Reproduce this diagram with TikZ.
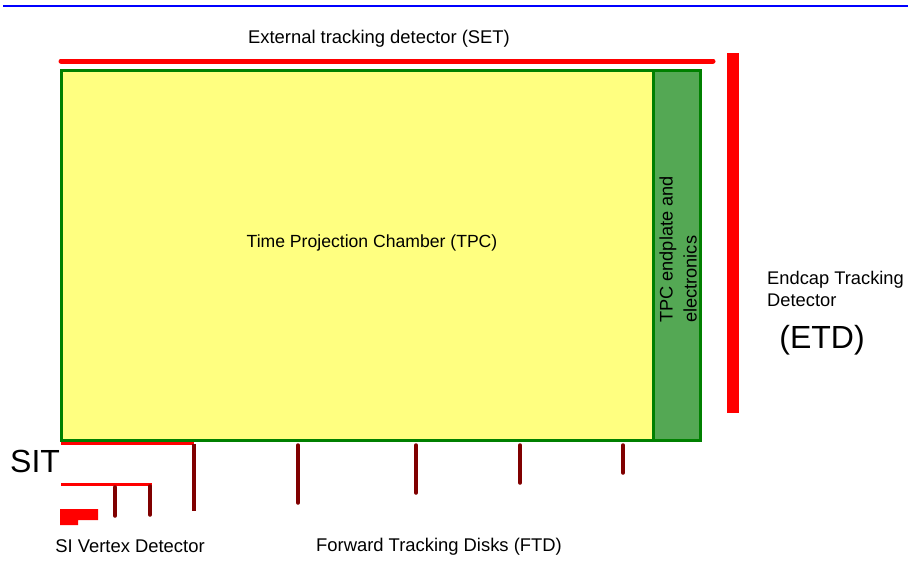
\documentclass[tikz,border=0pt]{standalone}
\usepackage{fontspec}
\setmainfont{Liberation Sans}
\definecolor{tpcyellow}{RGB}{255,255,128}
\definecolor{tpcgreen}{RGB}{84,168,84}
\definecolor{bordergreen}{RGB}{0,128,0}
\definecolor{detred}{RGB}{255,0,0}
\definecolor{diskred}{RGB}{128,0,0}
\definecolor{topblue}{RGB}{0,0,255}
\tikzset{
  lbl/.style={inner sep=0pt, font=\fontsize{18.4}{21.5}\selectfont, align=left},
  biglbl/.style={inner sep=0pt, font=\fontsize{32}{36}\selectfont},
  redline/.style={draw=detred, line width=3pt},
  disk/.style={draw=diskred, line width=3.5pt, line cap=round},
  chamber/.style={draw=bordergreen, line width=3pt},
}
\begin{document}
\begin{tikzpicture}[x=1pt,y=-1pt]
\useasboundingbox (0,0) rectangle (908,581);
% top rule
\draw[topblue, line width=1.8pt] (3,6) -- (908,6);
% SET
\draw[detred, line width=5pt, line cap=round] (61,61) -- (713,61);
\node[lbl] (set) at (379,39) {External tracking detector (SET)};
% ETD bar
\fill[detred] (727,53) rectangle (739,413);
% TPC
\filldraw[chamber, fill=tpcyellow] (61,70) rectangle (653,440);
\filldraw[chamber, fill=tpcgreen] (653,70) rectangle (700,440);
\node[lbl, font=\fontsize{17.6}{21}\selectfont] (tpc) at (372,243) {Time Projection Chamber (TPC)};
\node[lbl, font=\fontsize{18.2}{24}\selectfont, rotate=90, anchor=west] (endplate) at (678,323) {TPC endplate and\\electronics};
% ETD labels
\node[lbl, anchor=west, font=\fontsize{18.3}{21.5}\selectfont] (etd) at (767,289) {Endcap Tracking\\Detector};
\node[biglbl] (etdabbr) at (822,340) {(ETD)};
% SIT
\node[biglbl, anchor=west] (sit) at (10,461) {SIT};
\coordinate (sitA) at (61,443);
\coordinate (sitB) at (194,443);
\coordinate (sitC) at (61,484);
\coordinate (sitD) at (152,484);
\draw[redline] (sitA) -- (sitB);
\draw[redline] (sitC) -- (sitD);
% disks
\coordinate (d1t) at (194,444); \coordinate (d1b) at (194,511);
\coordinate (v1t) at (115,487); \coordinate (v1b) at (115,516);
\coordinate (v2t) at (150,486); \coordinate (v2b) at (150,515);
\coordinate (d2t) at (298,445); \coordinate (d2b) at (298,503);
\coordinate (d3t) at (416,445); \coordinate (d3b) at (416,493);
\coordinate (d4t) at (520,445); \coordinate (d4b) at (520,483);
\coordinate (d5t) at (623,445); \coordinate (d5b) at (623,473);
\draw[disk, line cap=butt] (d1t) -- (d1b);
\foreach \d in {v1,v2,d2,d3,d4,d5} \draw[disk] (\d t) -- (\d b);
% vertex detector block
\fill[detred] (60,509) -- (98,509) -- (98,520) -- (78,520) -- (78,525) -- (60,525) -- cycle;
\node[lbl] (vtx) at (130,546) {SI Vertex Detector};
\node[lbl] (ftd) at (439,547) {Forward Tracking Disks (FTD)};
\end{tikzpicture}
\end{document}
